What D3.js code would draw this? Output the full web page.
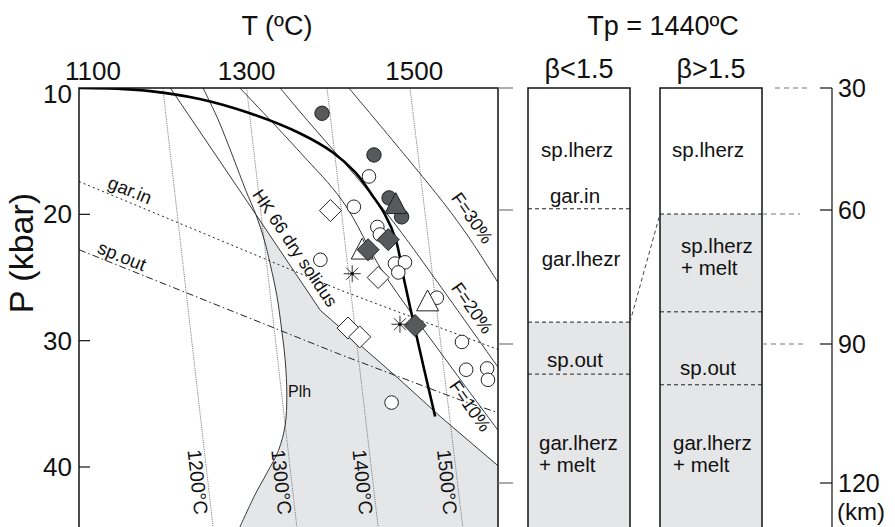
<!DOCTYPE html>
<html><head><meta charset="utf-8">
<script src="https://cdn.jsdelivr.net/npm/d3@7"></script>
<style>
body{margin:0;background:#fff}
svg{display:block}
text{font-family:"Liberation Sans",Arial,Helvetica,sans-serif;fill:#111}
</style>
</head><body>
<svg id="chart" width="895" height="527"></svg>
<script>
// ---- axis ticks ----
const tempTicks = [1100, 1300, 1500];          // °C, top axis
const pressureTicks = [10, 20, 30, 40];        // kbar, left axis
const depthTicks = [30, 60, 90, 120];          // km, right axis

// ---- adiabats: T (°C) at 10 kbar and at the bottom of the panel ----
const adiabatLabels = ["1200°C", "1300°C", "1400°C", "1500°C"];
const adiabatTop = [1200, 1300, 1396, 1495];
const adiabatBottom = [1260, 1360, 1457, 1558];

// ---- phase boundaries and melting curves, [T °C, P kbar] ----
const geotherm = [[1100,10],[1150,10.07],[1185,10.25],[1244,10.87],[1304,12.0],[1364,13.6],[1403,15.1],
  [1430,16.7],[1450,18.5],[1465,20.0],[1478,22.0],[1488,25.2],[1500,28.8],[1512,32.3],[1525,36.0]];
const drySolidus = [[1209,10],[1311,20.0],[1388,27.6],[1483,33.1],[1531,36.0],[1600,39.9]];
const plhBoundary = [[1248,10],[1266,12.5],[1284,15.5],[1299,18.1],[1311,20.0],[1321,22.0],
  [1328,23.9],[1336,26.4],[1342,29.2],[1346,31.5],[1348,34.3],[1346,36.7],[1338,38.7],
  [1324,40.5],[1310,42.2],[1292,44.75]];
const melt10 = [[1292,10],[1364,15.1],[1415,19.0],[1463,24.6],[1531,30.9],[1600,37.1]];
const melt20 = [[1340,10],[1364,11.9],[1456,19.0],[1491,22.0],[1600,32.1]];
const melt30 = [[1422,10],[1534,19.0],[1567,22.0],[1600,25.4]];
const garnetIn = [[1100,17.4],[1339,24.0],[1412,26.0],[1600,30.7]];
const spinelOut = [[1100,22.8],[1412,31.1],[1555,34.7],[1600,35.7]];

// ---- xenolith P-T estimates, [T °C, P kbar] ----
const openCircles = [[1446,17.0],[1428,19.4],[1456,21.0],[1459,21.6],[1388,23.6],[1477,23.9],
  [1489,23.8],[1481,24.6],[1527,26.6],[1557,30.1],[1562,32.3],[1587,32.2],[1588,33.1],[1473,34.9]];
const darkCircles = [[1390,12.0],[1452,15.3],[1470,18.7],[1485,20.2]];
const openTriangles = [[1438,22.8],[1516,26.9]];
const darkTriangles = [[1478,19.2]];
const openDiamonds = [[1400,19.7],[1457,25.0],[1421,29.0],[1435,29.7]];
const darkDiamonds = [[1469,22.0],[1445,22.8],[1501,28.8]];
const asterisks = [[1426,24.7],[1483,28.7]];

// ---- lithosphere columns (depths in km) ----
const columnTitles = ["β<1.5", "β>1.5"];
const lowBetaBoundaries = [59.7, 85.1, 96.5];
const lowBetaMeltTop = 85.1;
const highBetaBoundaries = [60.9, 82.8, 98.8];
const highBetaMeltTop = 60.9;

// =====================================================
const svg = d3.select("#chart");
const W = 895, H = 527;
const frame = {left: 79, right: 498, top: 88, bottom: H};
const x = d3.scaleLinear().domain([1100, 1600]).range([frame.left, frame.right]);
const y = d3.scaleLinear().domain([10, 40]).range([frame.top, 467]);
const pBottom = y.invert(H);
const depth = d3.scaleLinear().domain(depthTicks).range([88, 210, 344, 483]);
const GREY = "#e5e6e8";

svg.append("defs").append("clipPath").attr("id", "plotClip")
  .append("rect").attr("x", frame.left).attr("y", frame.top)
  .attr("width", frame.right - frame.left).attr("height", H - frame.top);

const plot = svg.append("g").attr("clip-path", "url(#plotClip)");
const lin = d3.line().x(d => x(d[0])).y(d => y(d[1]));
const smooth = d3.line().x(d => x(d[0])).y(d => y(d[1])).curve(d3.curveCatmullRom.alpha(0.5));

// shaded field between the dry solidus and the Plh boundary
const apexP = 20.0;
const solidusLimb = drySolidus.filter(d => d[1] >= apexP);
const plhLimb = plhBoundary.filter(d => d[1] >= apexP).reverse();
const shadePath = lin(solidusLimb) + "L" + x(1600) + "," + y(pBottom) +
  smooth(plhLimb).replace(/^M/, "L") + "Z";
plot.append("path").attr("d", shadePath).attr("fill", GREY).attr("stroke", "none");

// adiabats (thin dotted grey)
adiabatTop.forEach((t, i) => {
  plot.append("path").attr("d", lin([[t, 10], [adiabatBottom[i], pBottom]]))
    .attr("fill", "none").attr("stroke", "#666").attr("stroke-width", 0.8)
    .attr("stroke-dasharray", "1.2,1");
});

// phase boundary lines
plot.append("path").attr("d", lin(garnetIn)).attr("fill", "none")
  .attr("stroke", "#222").attr("stroke-width", 1).attr("stroke-dasharray", "2,3");
plot.append("path").attr("d", lin(spinelOut)).attr("fill", "none")
  .attr("stroke", "#222").attr("stroke-width", 1).attr("stroke-dasharray", "7,3,1.5,3");

// melting curves
[melt10, melt20, melt30].forEach(c => {
  plot.append("path").attr("d", smooth(c)).attr("fill", "none")
    .attr("stroke", "#222").attr("stroke-width", 0.9);
});
plot.append("path").attr("d", lin(drySolidus)).attr("fill", "none")
  .attr("stroke", "#222").attr("stroke-width", 0.9);
plot.append("path").attr("d", smooth(plhBoundary)).attr("fill", "none")
  .attr("stroke", "#222").attr("stroke-width", 0.9);

// geotherm (thick)
plot.append("path").attr("d", smooth(geotherm))
  .attr("fill", "none").attr("stroke", "#000").attr("stroke-width", 2.6);

// ---- symbols ----
const diamond = r => `M0,${-r}L${r},0L0,${r}L${-r},0Z`;
const triangle = r => `M0,${-r * 1.05}L${r},${r * 0.85}L${-r},${r * 0.85}Z`;
const star = r => {
  const k = r * Math.SQRT1_2;
  return `M0,${-r}V${r}M${-r},0H${r}M${-k},${-k}L${k},${k}M${-k},${k}L${k},${-k}`;
};
const pts = plot.append("g");
const DARK = "#58595b";
pts.selectAll(".oc").data(openCircles).join("circle")
  .attr("cx", d => x(d[0])).attr("cy", d => y(d[1])).attr("r", 6.8)
  .attr("fill", "#fff").attr("stroke", "#222").attr("stroke-width", 1);
pts.selectAll(".dc").data(darkCircles).join("circle")
  .attr("cx", d => x(d[0])).attr("cy", d => y(d[1])).attr("r", 7.2)
  .attr("fill", DARK).attr("stroke", "#222").attr("stroke-width", 1);
pts.selectAll(".ot").data(openTriangles).join("path")
  .attr("transform", d => `translate(${x(d[0])},${y(d[1])})`).attr("d", triangle(11))
  .attr("fill", "#fff").attr("stroke", "#222").attr("stroke-width", 1);
pts.selectAll(".dt").data(darkTriangles).join("path")
  .attr("transform", d => `translate(${x(d[0])},${y(d[1])})`).attr("d", triangle(11))
  .attr("fill", DARK).attr("stroke", "#222").attr("stroke-width", 1);
pts.selectAll(".od").data(openDiamonds).join("path")
  .attr("transform", d => `translate(${x(d[0])},${y(d[1])})`).attr("d", diamond(11))
  .attr("fill", "#fff").attr("stroke", "#222").attr("stroke-width", 1);
pts.selectAll(".dd").data(darkDiamonds).join("path")
  .attr("transform", d => `translate(${x(d[0])},${y(d[1])})`).attr("d", diamond(11))
  .attr("fill", DARK).attr("stroke", "#222").attr("stroke-width", 1);
const st = pts.selectAll(".st").data(asterisks).join("g")
  .attr("transform", d => `translate(${x(d[0])},${y(d[1])})`);
st.append("path").attr("d", star(8.5)).attr("stroke", "#333").attr("stroke-width", 1).attr("fill", "none");
st.append("circle").attr("r", 1.8).attr("fill", "#111");

// ---- annotations inside the P-T panel ----
const note = (txt, cx, cy, angle, size) => plot.append("text")
  .attr("transform", `translate(${cx},${cy}) rotate(${angle})`)
  .attr("text-anchor", "middle").attr("dominant-baseline", "central")
  .attr("font-size", size).text(txt);
note("gar.in", 130, 190, 22, 18.5);
note("sp.out", 122, 256, 22, 18.5);
note("HK 66 dry solidus", 295, 248, 56, 17.5);
note("F=30%", 472, 218, 55, 18);
note("F=20%", 472, 308, 55, 18);
note("F=10%", 470, 406, 55, 18);
plot.append("text").attr("x", 288).attr("y", 397).attr("font-size", 16).text("Plh");
adiabatLabels.forEach((lab, i) => {
  const cx = x(adiabatTop[i] + (adiabatBottom[i] - adiabatTop[i]) * (y.invert(482) - 10) / (pBottom - 10)) - 10;
  note(lab, cx, 482, 84, 19.5);
});

// ---- frame and axes of the P-T panel ----
const fr = svg.append("g").attr("stroke", "#111").attr("stroke-width", 1.5).attr("fill", "none");
fr.append("path").attr("d", `M${frame.left},${H}V${frame.top}H${frame.right}V${H}`);
pressureTicks.filter(p => p > 10).forEach(p => {
  fr.append("line").attr("x1", frame.left).attr("x2", frame.left + 11)
    .attr("y1", y(p)).attr("y2", y(p)).attr("stroke-width", 1.2);
});
depthTicks.forEach(d => {
  fr.append("line").attr("x1", frame.right).attr("x2", frame.right + 15)
    .attr("y1", depth(d)).attr("y2", depth(d)).attr("stroke", "#777").attr("stroke-width", 1.2);
});

tempTicks.forEach((t, i) => {
  svg.append("text").attr("x", x(t) + (i === 0 ? 14 : 0)).attr("y", 80)
    .attr("text-anchor", "middle").attr("font-size", 26).text(t);
});
pressureTicks.forEach((p, i) => {
  svg.append("text").attr("x", 72).attr("y", y(p) + (i === 0 ? 6 : 0))
    .attr("text-anchor", "end").attr("dominant-baseline", "central")
    .attr("font-size", 26).text(p);
});
svg.append("text").attr("x", 277).attr("y", 35).attr("text-anchor", "middle")
  .attr("font-size", 27).text("T (ºC)");
svg.append("text").attr("transform", "translate(21,253) rotate(-90)")
  .attr("text-anchor", "middle").attr("dominant-baseline", "central")
  .attr("font-size", 34).text("P (kbar)");

// ---- lithosphere columns ----
svg.append("text").attr("x", 663).attr("y", 35).attr("text-anchor", "middle")
  .attr("font-size", 27).text("Tp = 1440ºC");

const columns = [
  {x0: 528, x1: 630, title: columnTitles[0], meltTop: lowBetaMeltTop, bounds: lowBetaBoundaries},
  {x0: 660, x1: 762, title: columnTitles[1], meltTop: highBetaMeltTop, bounds: highBetaBoundaries}
];
columns.forEach(c => {
  svg.append("text").attr("x", (c.x0 + c.x1) / 2).attr("y", 78)
    .attr("text-anchor", "middle").attr("font-size", 27).text(c.title);
  svg.append("rect").attr("x", c.x0).attr("y", depth(30)).attr("width", c.x1 - c.x0)
    .attr("height", H - depth(30) + 5).attr("fill", "#fff");
  svg.append("rect").attr("x", c.x0).attr("y", depth(c.meltTop)).attr("width", c.x1 - c.x0)
    .attr("height", H - depth(c.meltTop) + 5).attr("fill", GREY);
  c.bounds.forEach(b => {
    svg.append("line").attr("x1", c.x0).attr("x2", c.x1).attr("y1", depth(b)).attr("y2", depth(b))
      .attr("stroke", "#222").attr("stroke-width", 1).attr("stroke-dasharray", "4,3");
  });
  svg.append("rect").attr("x", c.x0).attr("y", depth(30)).attr("width", c.x1 - c.x0)
    .attr("height", H - depth(30) + 5).attr("fill", "none").attr("stroke", "#111").attr("stroke-width", 1.5);
});

// connector between the two melt tops
svg.append("line").attr("x1", columns[0].x1).attr("y1", depth(lowBetaMeltTop))
  .attr("x2", columns[1].x0).attr("y2", depth(highBetaMeltTop))
  .attr("stroke", "#444").attr("stroke-width", 1).attr("stroke-dasharray", "4,3");

// column labels
const colText = (lines, x0, d, anchor) => {
  const t = svg.append("text").attr("x", x0).attr("y", depth(d))
    .attr("text-anchor", anchor).attr("font-size", 20.5);
  lines.forEach((l, i) => t.append("tspan").attr("x", x0).attr("dy", i === 0 ? "0.35em" : "1.05em").text(l));
};
colText(["sp.lherz"], 577, 45.2, "middle");
colText(["gar.in"], 575, 56.6, "middle");
colText(["gar.lhezr"], 581, 70.9, "middle");
colText(["sp.out"], 575, 93.5, "middle");
colText(["gar.lherz", "+ melt"], 539, 111.4, "start");
colText(["sp.lherz"], 708, 45.2, "middle");
colText(["sp.lherz", "+ melt"], 681, 68.1, "start");
colText(["sp.out"], 708, 95.2, "middle");
colText(["gar.lherz", "+ melt"], 673, 111.4, "start");

// guide dashes toward the depth axis
[[775, 807, 30], [762, 800, highBetaMeltTop], [762, 805, 90]].forEach(g => {
  svg.append("line").attr("x1", g[0]).attr("x2", g[1]).attr("y1", depth(g[2])).attr("y2", depth(g[2]))
    .attr("stroke", "#777").attr("stroke-width", 1).attr("stroke-dasharray", "5,4");
});

// depth axis
const axX = 832;
svg.append("line").attr("x1", axX).attr("x2", axX).attr("y1", depth(30)).attr("y2", H)
  .attr("stroke", "#111").attr("stroke-width", 1.2);
depthTicks.forEach(d => {
  svg.append("line").attr("x1", axX - 12).attr("x2", axX).attr("y1", depth(d)).attr("y2", depth(d))
    .attr("stroke", "#111").attr("stroke-width", 1.2);
  svg.append("text").attr("x", axX + 6).attr("y", depth(d)).attr("dominant-baseline", "central")
    .attr("font-size", 25).text(d);
});
svg.append("text").attr("x", axX + 5).attr("y", 511).attr("dominant-baseline", "central")
  .attr("font-size", 24).text("(km)");
</script>
</body></html>
